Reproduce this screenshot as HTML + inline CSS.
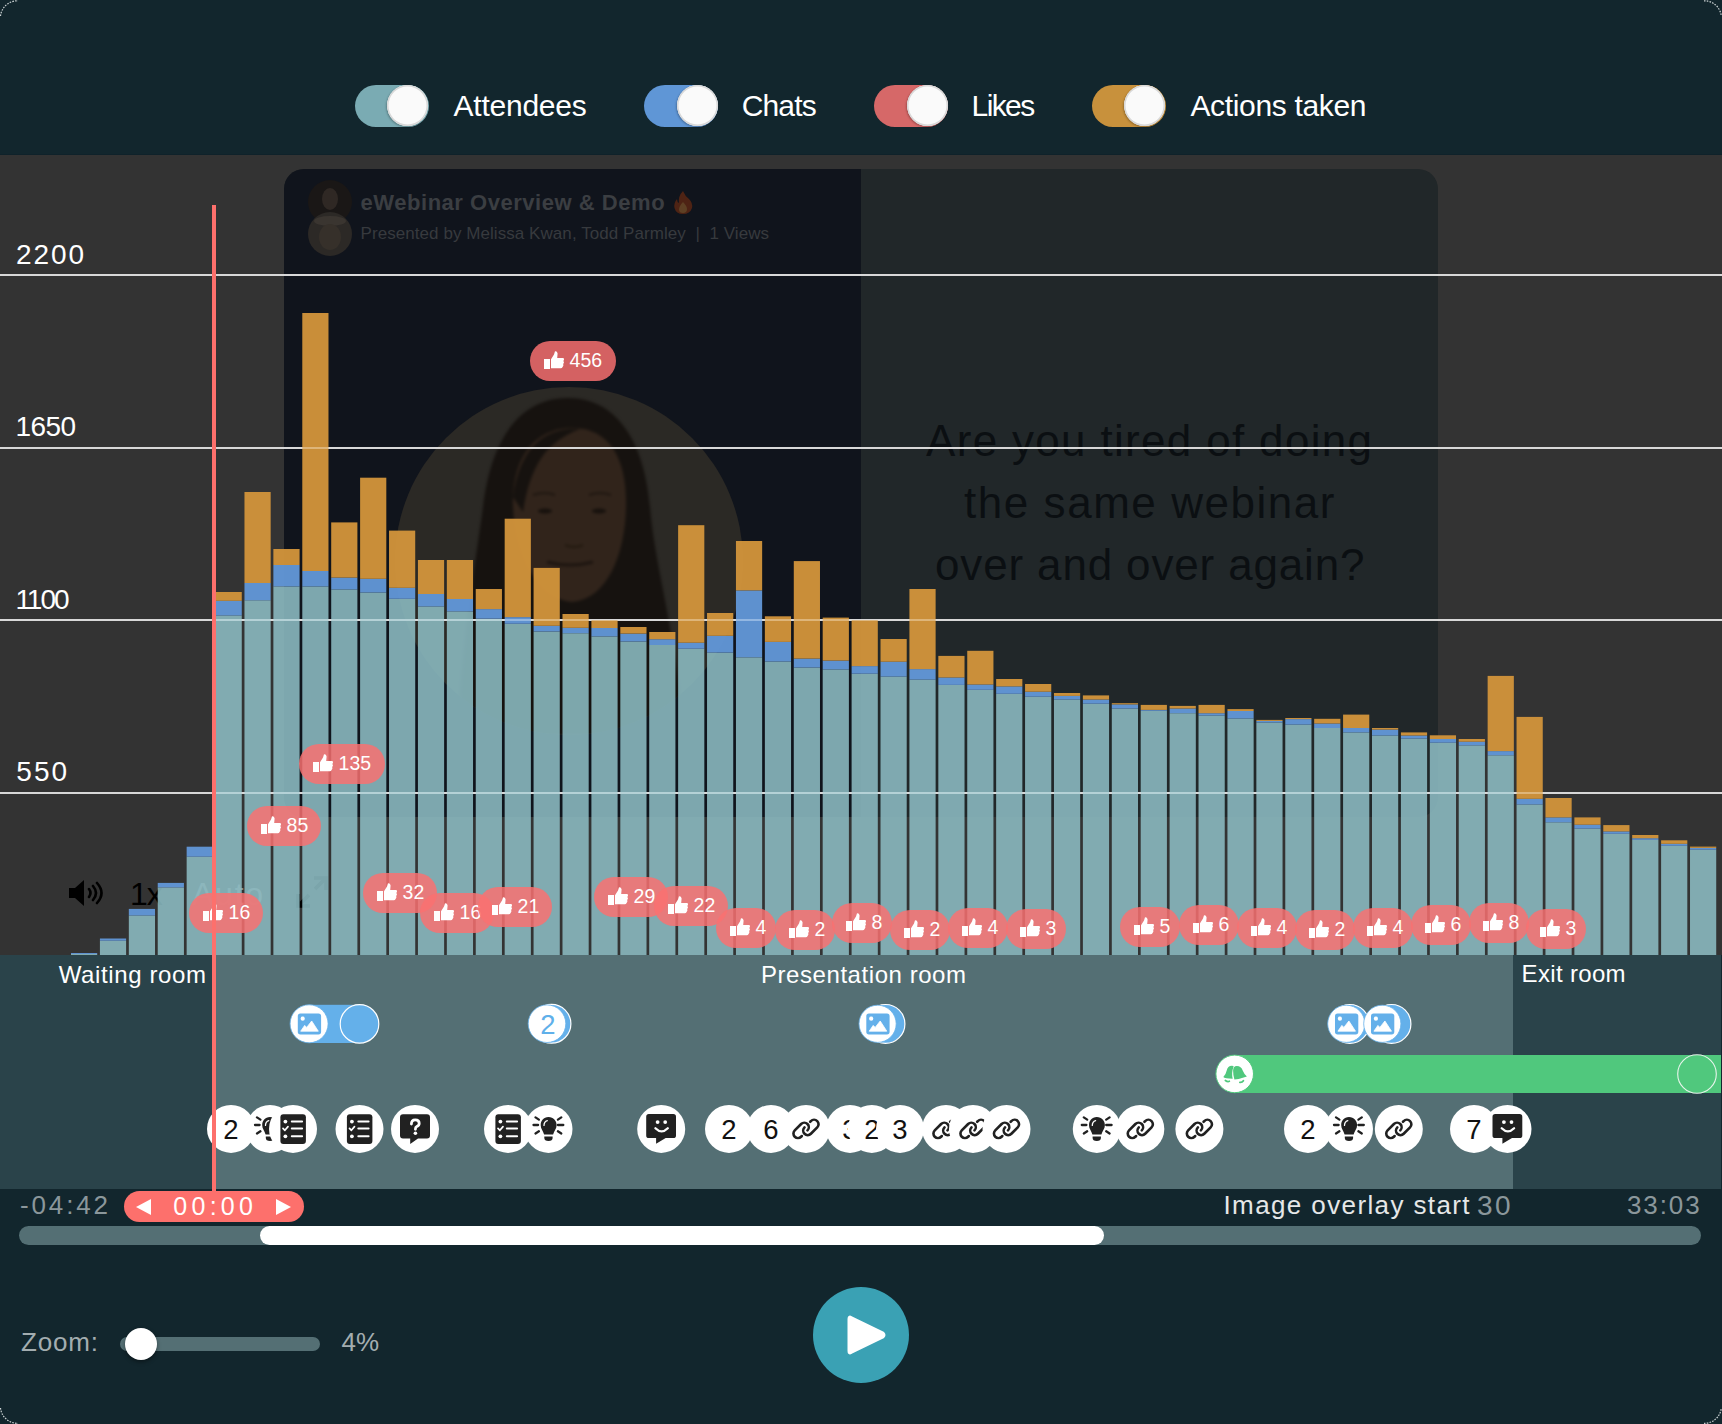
<!DOCTYPE html>
<html><head><meta charset="utf-8"><style>
html,body{margin:0;padding:0;}
body{width:1722px;height:1424px;position:relative;overflow:hidden;background:#12262d;font-family:"Liberation Sans",sans-serif;}
.r{position:absolute;}
.t{position:absolute;white-space:nowrap;line-height:1;}
.bub{border-radius:20px;background:rgba(250,112,112,0.84);}
</style></head><body>
<div class="r" style="left:0;top:0;width:1722px;height:155px;background:#12262d"></div>
<div class="r" style="left:0;top:155px;width:1722px;height:800px;background:#333333"></div>
<div class="r" style="left:0;top:154px;width:1722px;height:1px;background:#0f222a"></div>
<div class="r" style="left:0;top:955px;width:213px;height:234px;background:#2a434a"></div>
<div class="r" style="left:213px;top:955px;width:1300px;height:234px;background:#546f74"></div>
<div class="r" style="left:1513px;top:955px;width:208px;height:234px;background:#2a434a"></div>
<div class="r" style="left:0;top:1189px;width:1722px;height:235px;background:#12262d"></div>
<div class="r" style="left:354.6px;top:85px;width:74px;height:42px;border-radius:21px;background:#7aabb3"></div>
<div class="r" style="left:387.1px;top:85px;width:41px;height:41px;border-radius:50%;background:#fafafa;box-shadow:inset 0 0 0 1.5px #d8d8d8, -1px 1px 2px rgba(0,0,0,.25)"></div>
<div class="t" style="left:453.50px;top:90.61px;font-size:30px;letter-spacing:-0.231px;color:#ffffff;">Attendees</div>
<div class="r" style="left:644.0px;top:85px;width:74px;height:42px;border-radius:21px;background:#5f96d6"></div>
<div class="r" style="left:676.5px;top:85px;width:41px;height:41px;border-radius:50%;background:#fafafa;box-shadow:inset 0 0 0 1.5px #d8d8d8, -1px 1px 2px rgba(0,0,0,.25)"></div>
<div class="t" style="left:741.70px;top:90.61px;font-size:30px;letter-spacing:-0.850px;color:#ffffff;">Chats</div>
<div class="r" style="left:874.0px;top:85px;width:74px;height:42px;border-radius:21px;background:#d66868"></div>
<div class="r" style="left:906.5px;top:85px;width:41px;height:41px;border-radius:50%;background:#fafafa;box-shadow:inset 0 0 0 1.5px #d8d8d8, -1px 1px 2px rgba(0,0,0,.25)"></div>
<div class="t" style="left:971.60px;top:90.61px;font-size:30px;letter-spacing:-1.612px;color:#ffffff;">Likes</div>
<div class="r" style="left:1091.8px;top:85px;width:74px;height:42px;border-radius:21px;background:#c8913c"></div>
<div class="r" style="left:1124.3px;top:85px;width:41px;height:41px;border-radius:50%;background:#fafafa;box-shadow:inset 0 0 0 1.5px #d8d8d8, -1px 1px 2px rgba(0,0,0,.25)"></div>
<div class="t" style="left:1190.40px;top:90.61px;font-size:30px;letter-spacing:-0.329px;color:#ffffff;">Actions taken</div>
<div class="r" style="left:284px;top:169px;width:1154px;height:648px;border-radius:20px;overflow:hidden;background:#212729">
<div class="r" style="left:0;top:0;width:577px;height:648px;background:#10141c"></div>
<div class="r" style="left:111px;top:218px;width:348px;height:348px;border-radius:50%;background:#2b2925;overflow:hidden"><svg width="348" height="348" style="position:absolute;left:0;top:0;filter:blur(1.5px)"><path d="M173 11C225 11 250 60 255 120C260 180 278 230 290 348L62 348C70 230 80 180 88 120C95 60 120 11 173 11Z" fill="#16120f"/><path d="M177 41C215 41 232 72 231 120C230 168 212 212 177 215C142 212 120 168 118 120C116 72 139 41 177 41Z" fill="#31241b"/><path d="M118 110C125 60 150 40 185 42C150 55 135 80 128 125Z" fill="#16120f"/><ellipse cx="150" cy="124" rx="7" ry="2.6" fill="#17110d"/><ellipse cx="204" cy="124" rx="7" ry="2.6" fill="#17110d"/><path d="M138 108Q150 104 160 108M194 108Q205 104 216 108" stroke="#1f1711" stroke-width="2" fill="none"/><path d="M170 158Q179 162 188 158" stroke="#22190f" stroke-width="2" fill="none"/><path d="M152 175Q175 181 198 175" stroke="#1d1510" stroke-width="3" fill="none"/></svg></div>
</div>
<div class="r" style="left:308px;top:180px;width:44px;height:44px;border-radius:50%;background:#1a1716;overflow:hidden"><div class="r" style="left:14px;top:8px;width:16px;height:22px;border-radius:50%;background:#2f2824"></div></div>
<div class="r" style="left:308px;top:212px;width:44px;height:44px;border-radius:50%;background:#2c2926;overflow:hidden"><div class="r" style="left:6px;top:4px;width:32px;height:10px;border-radius:50%;background:#3a3530"></div><div class="r" style="left:11px;top:12px;width:22px;height:26px;border-radius:50%;background:#36302a"></div></div>
<div class="t" style="left:360.60px;top:192.08px;font-size:22px;letter-spacing:0.529px;color:#3b3e42;font-weight:bold;">eWebinar Overview &amp; Demo</div>
<svg class="r" style="left:672px;top:190px" width="22" height="25" viewBox="0 0 22 25"><path d="M11 1Q13 6 17 9Q21 13 20 18Q18 24 11 24Q4 24 2.5 18Q1.5 13 5 9Q5 12 7 13Q6 6 11 1Z" fill="#4e2314"/><path d="M11 12Q15 16 15 19Q15 23 11 23Q7 23 7 19.5Q7 16 11 12Z" fill="#5e4024"/></svg>
<div class="t" style="left:360.60px;top:224.71px;font-size:17px;letter-spacing:0.061px;color:#373a3e;">Presented by Melissa Kwan, Todd Parmley &nbsp;|&nbsp; 1 Views</div>
<div class="t" style="left:926.00px;top:419.45px;font-size:44px;letter-spacing:1.323px;color:#0b0f12;">Are you tired of doing</div>
<div class="t" style="left:964.00px;top:481.45px;font-size:44px;letter-spacing:1.548px;color:#0b0f12;">the same webinar</div>
<div class="t" style="left:935.00px;top:543.05px;font-size:44px;letter-spacing:0.848px;color:#0b0f12;">over and over again?</div>
<svg class="r" style="left:68px;top:879px" width="38" height="28" viewBox="0 0 38 28"><path d="M1 9h6l9-8v26l-9-8H1z" fill="#000"/><path d="M21 10q3 4 0 8M25 7q6 7 0 14M29 4q9 10 0 20" stroke="#000" stroke-width="2.6" fill="none" stroke-linecap="round"/></svg>
<div class="t" style="left:130px;top:877.91px;font-size:32px;letter-spacing:-1px;color:#000">1x</div>
<div class="t" style="left:192.00px;top:877.91px;font-size:32px;letter-spacing:1.747px;color:rgba(255,255,255,0.45);">Auto</div>
<svg class="r" style="left:292px;top:872px" width="40" height="40" viewBox="0 0 40 40"><path d="M22 6H34V18M34 6L23 17M18 34H6V22M6 34L17 23" stroke="#000" stroke-width="3.5" fill="none"/></svg>
<div class="r" style="left:0;top:274px;width:1722px;height:2px;background:#c8c8c8"></div>
<div class="r" style="left:0;top:446.5px;width:1722px;height:2px;background:#c8c8c8"></div>
<div class="r" style="left:0;top:619px;width:1722px;height:2px;background:#c8c8c8"></div>
<div class="r" style="left:0;top:791.5px;width:1722px;height:2px;background:#c8c8c8"></div>
<svg class="r" style="left:0;top:0" width="1722" height="1424">
<rect x="71.00" y="954" width="26.2" height="1.00" fill="#8cbcc3" fill-opacity="0.88"/>
<rect x="71.00" y="953" width="26.2" height="1.00" fill="#6196d6" fill-opacity="0.97"/>
<rect x="99.91" y="940.7" width="26.2" height="14.30" fill="#8cbcc3" fill-opacity="0.88"/>
<rect x="99.91" y="938.5" width="26.2" height="2.20" fill="#6196d6" fill-opacity="0.97"/>
<rect x="128.82" y="915.5" width="26.2" height="39.50" fill="#8cbcc3" fill-opacity="0.88"/>
<rect x="128.82" y="908.9" width="26.2" height="6.60" fill="#6196d6" fill-opacity="0.97"/>
<rect x="157.73" y="887.4" width="26.2" height="67.60" fill="#8cbcc3" fill-opacity="0.88"/>
<rect x="157.73" y="882.9" width="26.2" height="4.50" fill="#6196d6" fill-opacity="0.97"/>
<rect x="186.64" y="856.7" width="26.2" height="98.30" fill="#8cbcc3" fill-opacity="0.88"/>
<rect x="186.64" y="846.7" width="26.2" height="10.00" fill="#6196d6" fill-opacity="0.97"/>
<rect x="215.56" y="615.5" width="26.2" height="339.50" fill="#8cbcc3" fill-opacity="0.88"/>
<rect x="215.56" y="600.8" width="26.2" height="14.70" fill="#6196d6" fill-opacity="0.97"/>
<rect x="215.56" y="592" width="26.2" height="8.80" fill="#cf933b" fill-opacity="0.97"/>
<rect x="244.47" y="600.3" width="26.2" height="354.70" fill="#8cbcc3" fill-opacity="0.88"/>
<rect x="244.47" y="583" width="26.2" height="17.30" fill="#6196d6" fill-opacity="0.97"/>
<rect x="244.47" y="492" width="26.2" height="91.00" fill="#cf933b" fill-opacity="0.97"/>
<rect x="273.38" y="586.4" width="26.2" height="368.60" fill="#8cbcc3" fill-opacity="0.88"/>
<rect x="273.38" y="565" width="26.2" height="21.40" fill="#6196d6" fill-opacity="0.97"/>
<rect x="273.38" y="549" width="26.2" height="16.00" fill="#cf933b" fill-opacity="0.97"/>
<rect x="302.29" y="586.4" width="26.2" height="368.60" fill="#8cbcc3" fill-opacity="0.88"/>
<rect x="302.29" y="571" width="26.2" height="15.40" fill="#6196d6" fill-opacity="0.97"/>
<rect x="302.29" y="313" width="26.2" height="258.00" fill="#cf933b" fill-opacity="0.97"/>
<rect x="331.20" y="589.4" width="26.2" height="365.60" fill="#8cbcc3" fill-opacity="0.88"/>
<rect x="331.20" y="577.6" width="26.2" height="11.80" fill="#6196d6" fill-opacity="0.97"/>
<rect x="331.20" y="522.4" width="26.2" height="55.20" fill="#cf933b" fill-opacity="0.97"/>
<rect x="360.11" y="592.5" width="26.2" height="362.50" fill="#8cbcc3" fill-opacity="0.88"/>
<rect x="360.11" y="578.8" width="26.2" height="13.70" fill="#6196d6" fill-opacity="0.97"/>
<rect x="360.11" y="477.7" width="26.2" height="101.10" fill="#cf933b" fill-opacity="0.97"/>
<rect x="389.02" y="598.8" width="26.2" height="356.20" fill="#8cbcc3" fill-opacity="0.88"/>
<rect x="389.02" y="587.8" width="26.2" height="11.00" fill="#6196d6" fill-opacity="0.97"/>
<rect x="389.02" y="530.6" width="26.2" height="57.20" fill="#cf933b" fill-opacity="0.97"/>
<rect x="417.93" y="606.5" width="26.2" height="348.50" fill="#8cbcc3" fill-opacity="0.88"/>
<rect x="417.93" y="594" width="26.2" height="12.50" fill="#6196d6" fill-opacity="0.97"/>
<rect x="417.93" y="560" width="26.2" height="34.00" fill="#cf933b" fill-opacity="0.97"/>
<rect x="446.84" y="611.4" width="26.2" height="343.60" fill="#8cbcc3" fill-opacity="0.88"/>
<rect x="446.84" y="599" width="26.2" height="12.40" fill="#6196d6" fill-opacity="0.97"/>
<rect x="446.84" y="560" width="26.2" height="39.00" fill="#cf933b" fill-opacity="0.97"/>
<rect x="475.75" y="618.7" width="26.2" height="336.30" fill="#8cbcc3" fill-opacity="0.88"/>
<rect x="475.75" y="609.1" width="26.2" height="9.60" fill="#6196d6" fill-opacity="0.97"/>
<rect x="475.75" y="589" width="26.2" height="20.10" fill="#cf933b" fill-opacity="0.97"/>
<rect x="504.67" y="623.8" width="26.2" height="331.20" fill="#8cbcc3" fill-opacity="0.88"/>
<rect x="504.67" y="617.1" width="26.2" height="6.70" fill="#6196d6" fill-opacity="0.97"/>
<rect x="504.67" y="518.7" width="26.2" height="98.40" fill="#cf933b" fill-opacity="0.97"/>
<rect x="533.58" y="631.5" width="26.2" height="323.50" fill="#8cbcc3" fill-opacity="0.88"/>
<rect x="533.58" y="625.8" width="26.2" height="5.70" fill="#6196d6" fill-opacity="0.97"/>
<rect x="533.58" y="567.9" width="26.2" height="57.90" fill="#cf933b" fill-opacity="0.97"/>
<rect x="562.49" y="633.2" width="26.2" height="321.80" fill="#8cbcc3" fill-opacity="0.88"/>
<rect x="562.49" y="627.8" width="26.2" height="5.40" fill="#6196d6" fill-opacity="0.97"/>
<rect x="562.49" y="614" width="26.2" height="13.80" fill="#cf933b" fill-opacity="0.97"/>
<rect x="591.40" y="636.4" width="26.2" height="318.60" fill="#8cbcc3" fill-opacity="0.88"/>
<rect x="591.40" y="628" width="26.2" height="8.40" fill="#6196d6" fill-opacity="0.97"/>
<rect x="591.40" y="620.2" width="26.2" height="7.80" fill="#cf933b" fill-opacity="0.97"/>
<rect x="620.31" y="641.5" width="26.2" height="313.50" fill="#8cbcc3" fill-opacity="0.88"/>
<rect x="620.31" y="633.6" width="26.2" height="7.90" fill="#6196d6" fill-opacity="0.97"/>
<rect x="620.31" y="627" width="26.2" height="6.60" fill="#cf933b" fill-opacity="0.97"/>
<rect x="649.22" y="645" width="26.2" height="310.00" fill="#8cbcc3" fill-opacity="0.88"/>
<rect x="649.22" y="639.2" width="26.2" height="5.80" fill="#6196d6" fill-opacity="0.97"/>
<rect x="649.22" y="632" width="26.2" height="7.20" fill="#cf933b" fill-opacity="0.97"/>
<rect x="678.13" y="648.7" width="26.2" height="306.30" fill="#8cbcc3" fill-opacity="0.88"/>
<rect x="678.13" y="642.7" width="26.2" height="6.00" fill="#6196d6" fill-opacity="0.97"/>
<rect x="678.13" y="525.2" width="26.2" height="117.50" fill="#cf933b" fill-opacity="0.97"/>
<rect x="707.04" y="652.6" width="26.2" height="302.40" fill="#8cbcc3" fill-opacity="0.88"/>
<rect x="707.04" y="635.8" width="26.2" height="16.80" fill="#6196d6" fill-opacity="0.97"/>
<rect x="707.04" y="613" width="26.2" height="22.80" fill="#cf933b" fill-opacity="0.97"/>
<rect x="735.95" y="657.3" width="26.2" height="297.70" fill="#8cbcc3" fill-opacity="0.88"/>
<rect x="735.95" y="590.4" width="26.2" height="66.90" fill="#6196d6" fill-opacity="0.97"/>
<rect x="735.95" y="541" width="26.2" height="49.40" fill="#cf933b" fill-opacity="0.97"/>
<rect x="764.86" y="661.5" width="26.2" height="293.50" fill="#8cbcc3" fill-opacity="0.88"/>
<rect x="764.86" y="641.9" width="26.2" height="19.60" fill="#6196d6" fill-opacity="0.97"/>
<rect x="764.86" y="616.3" width="26.2" height="25.60" fill="#cf933b" fill-opacity="0.97"/>
<rect x="793.78" y="667.5" width="26.2" height="287.50" fill="#8cbcc3" fill-opacity="0.88"/>
<rect x="793.78" y="658.6" width="26.2" height="8.90" fill="#6196d6" fill-opacity="0.97"/>
<rect x="793.78" y="561.1" width="26.2" height="97.50" fill="#cf933b" fill-opacity="0.97"/>
<rect x="822.69" y="669.4" width="26.2" height="285.60" fill="#8cbcc3" fill-opacity="0.88"/>
<rect x="822.69" y="660.6" width="26.2" height="8.80" fill="#6196d6" fill-opacity="0.97"/>
<rect x="822.69" y="617.6" width="26.2" height="43.00" fill="#cf933b" fill-opacity="0.97"/>
<rect x="851.60" y="673.7" width="26.2" height="281.30" fill="#8cbcc3" fill-opacity="0.88"/>
<rect x="851.60" y="666.1" width="26.2" height="7.60" fill="#6196d6" fill-opacity="0.97"/>
<rect x="851.60" y="620.1" width="26.2" height="46.00" fill="#cf933b" fill-opacity="0.97"/>
<rect x="880.51" y="676.6" width="26.2" height="278.40" fill="#8cbcc3" fill-opacity="0.88"/>
<rect x="880.51" y="661.7" width="26.2" height="14.90" fill="#6196d6" fill-opacity="0.97"/>
<rect x="880.51" y="639" width="26.2" height="22.70" fill="#cf933b" fill-opacity="0.97"/>
<rect x="909.42" y="679.6" width="26.2" height="275.40" fill="#8cbcc3" fill-opacity="0.88"/>
<rect x="909.42" y="669.1" width="26.2" height="10.50" fill="#6196d6" fill-opacity="0.97"/>
<rect x="909.42" y="589" width="26.2" height="80.10" fill="#cf933b" fill-opacity="0.97"/>
<rect x="938.33" y="684.9" width="26.2" height="270.10" fill="#8cbcc3" fill-opacity="0.88"/>
<rect x="938.33" y="677.5" width="26.2" height="7.40" fill="#6196d6" fill-opacity="0.97"/>
<rect x="938.33" y="655.9" width="26.2" height="21.60" fill="#cf933b" fill-opacity="0.97"/>
<rect x="967.24" y="689.8" width="26.2" height="265.20" fill="#8cbcc3" fill-opacity="0.88"/>
<rect x="967.24" y="684.5" width="26.2" height="5.30" fill="#6196d6" fill-opacity="0.97"/>
<rect x="967.24" y="650.8" width="26.2" height="33.70" fill="#cf933b" fill-opacity="0.97"/>
<rect x="996.15" y="693.8" width="26.2" height="261.20" fill="#8cbcc3" fill-opacity="0.88"/>
<rect x="996.15" y="686.4" width="26.2" height="7.40" fill="#6196d6" fill-opacity="0.97"/>
<rect x="996.15" y="679" width="26.2" height="7.40" fill="#cf933b" fill-opacity="0.97"/>
<rect x="1025.06" y="696.7" width="26.2" height="258.30" fill="#8cbcc3" fill-opacity="0.88"/>
<rect x="1025.06" y="691.7" width="26.2" height="5.00" fill="#6196d6" fill-opacity="0.97"/>
<rect x="1025.06" y="684" width="26.2" height="7.70" fill="#cf933b" fill-opacity="0.97"/>
<rect x="1053.97" y="699.5" width="26.2" height="255.50" fill="#8cbcc3" fill-opacity="0.88"/>
<rect x="1053.97" y="695.9" width="26.2" height="3.60" fill="#6196d6" fill-opacity="0.97"/>
<rect x="1053.97" y="693" width="26.2" height="2.90" fill="#cf933b" fill-opacity="0.97"/>
<rect x="1082.88" y="703.7" width="26.2" height="251.30" fill="#8cbcc3" fill-opacity="0.88"/>
<rect x="1082.88" y="699.5" width="26.2" height="4.20" fill="#6196d6" fill-opacity="0.97"/>
<rect x="1082.88" y="695.4" width="26.2" height="4.10" fill="#cf933b" fill-opacity="0.97"/>
<rect x="1111.80" y="708.5" width="26.2" height="246.50" fill="#8cbcc3" fill-opacity="0.88"/>
<rect x="1111.80" y="704.4" width="26.2" height="4.10" fill="#6196d6" fill-opacity="0.97"/>
<rect x="1111.80" y="703.2" width="26.2" height="1.20" fill="#cf933b" fill-opacity="0.97"/>
<rect x="1140.71" y="710.8" width="26.2" height="244.20" fill="#8cbcc3" fill-opacity="0.88"/>
<rect x="1140.71" y="709.9" width="26.2" height="0.90" fill="#6196d6" fill-opacity="0.97"/>
<rect x="1140.71" y="704.9" width="26.2" height="5.00" fill="#cf933b" fill-opacity="0.97"/>
<rect x="1169.62" y="713.2" width="26.2" height="241.80" fill="#8cbcc3" fill-opacity="0.88"/>
<rect x="1169.62" y="708.5" width="26.2" height="4.70" fill="#6196d6" fill-opacity="0.97"/>
<rect x="1169.62" y="705.9" width="26.2" height="2.60" fill="#cf933b" fill-opacity="0.97"/>
<rect x="1198.53" y="715.5" width="26.2" height="239.50" fill="#8cbcc3" fill-opacity="0.88"/>
<rect x="1198.53" y="713.2" width="26.2" height="2.30" fill="#6196d6" fill-opacity="0.97"/>
<rect x="1198.53" y="704.9" width="26.2" height="8.30" fill="#cf933b" fill-opacity="0.97"/>
<rect x="1227.44" y="718.5" width="26.2" height="236.50" fill="#8cbcc3" fill-opacity="0.88"/>
<rect x="1227.44" y="711" width="26.2" height="7.50" fill="#6196d6" fill-opacity="0.97"/>
<rect x="1227.44" y="709.1" width="26.2" height="1.90" fill="#cf933b" fill-opacity="0.97"/>
<rect x="1256.35" y="722.5" width="26.2" height="232.50" fill="#8cbcc3" fill-opacity="0.88"/>
<rect x="1256.35" y="720.9" width="26.2" height="1.60" fill="#6196d6" fill-opacity="0.97"/>
<rect x="1256.35" y="719.9" width="26.2" height="1.00" fill="#cf933b" fill-opacity="0.97"/>
<rect x="1285.26" y="724.6" width="26.2" height="230.40" fill="#8cbcc3" fill-opacity="0.88"/>
<rect x="1285.26" y="719.1" width="26.2" height="5.50" fill="#6196d6" fill-opacity="0.97"/>
<rect x="1285.26" y="718" width="26.2" height="1.10" fill="#cf933b" fill-opacity="0.97"/>
<rect x="1314.17" y="728" width="26.2" height="227.00" fill="#8cbcc3" fill-opacity="0.88"/>
<rect x="1314.17" y="723.5" width="26.2" height="4.50" fill="#6196d6" fill-opacity="0.97"/>
<rect x="1314.17" y="718.8" width="26.2" height="4.70" fill="#cf933b" fill-opacity="0.97"/>
<rect x="1343.08" y="732.4" width="26.2" height="222.60" fill="#8cbcc3" fill-opacity="0.88"/>
<rect x="1343.08" y="728" width="26.2" height="4.40" fill="#6196d6" fill-opacity="0.97"/>
<rect x="1343.08" y="714.6" width="26.2" height="13.40" fill="#cf933b" fill-opacity="0.97"/>
<rect x="1372.00" y="735.5" width="26.2" height="219.50" fill="#8cbcc3" fill-opacity="0.88"/>
<rect x="1372.00" y="729.6" width="26.2" height="5.90" fill="#6196d6" fill-opacity="0.97"/>
<rect x="1372.00" y="728" width="26.2" height="1.60" fill="#cf933b" fill-opacity="0.97"/>
<rect x="1400.91" y="738.5" width="26.2" height="216.50" fill="#8cbcc3" fill-opacity="0.88"/>
<rect x="1400.91" y="735.5" width="26.2" height="3.00" fill="#6196d6" fill-opacity="0.97"/>
<rect x="1400.91" y="732.4" width="26.2" height="3.10" fill="#cf933b" fill-opacity="0.97"/>
<rect x="1429.82" y="742.7" width="26.2" height="212.30" fill="#8cbcc3" fill-opacity="0.88"/>
<rect x="1429.82" y="739" width="26.2" height="3.70" fill="#6196d6" fill-opacity="0.97"/>
<rect x="1429.82" y="735.3" width="26.2" height="3.70" fill="#cf933b" fill-opacity="0.97"/>
<rect x="1458.73" y="745.4" width="26.2" height="209.60" fill="#8cbcc3" fill-opacity="0.88"/>
<rect x="1458.73" y="741.7" width="26.2" height="3.70" fill="#6196d6" fill-opacity="0.97"/>
<rect x="1458.73" y="739" width="26.2" height="2.70" fill="#cf933b" fill-opacity="0.97"/>
<rect x="1487.64" y="755.3" width="26.2" height="199.70" fill="#8cbcc3" fill-opacity="0.88"/>
<rect x="1487.64" y="751.1" width="26.2" height="4.20" fill="#6196d6" fill-opacity="0.97"/>
<rect x="1487.64" y="675.9" width="26.2" height="75.20" fill="#cf933b" fill-opacity="0.97"/>
<rect x="1516.55" y="804.5" width="26.2" height="150.50" fill="#8cbcc3" fill-opacity="0.88"/>
<rect x="1516.55" y="798.8" width="26.2" height="5.70" fill="#6196d6" fill-opacity="0.97"/>
<rect x="1516.55" y="716.9" width="26.2" height="81.90" fill="#cf933b" fill-opacity="0.97"/>
<rect x="1545.46" y="822.3" width="26.2" height="132.70" fill="#8cbcc3" fill-opacity="0.88"/>
<rect x="1545.46" y="817.4" width="26.2" height="4.90" fill="#6196d6" fill-opacity="0.97"/>
<rect x="1545.46" y="798" width="26.2" height="19.40" fill="#cf933b" fill-opacity="0.97"/>
<rect x="1574.37" y="828.6" width="26.2" height="126.40" fill="#8cbcc3" fill-opacity="0.88"/>
<rect x="1574.37" y="824.7" width="26.2" height="3.90" fill="#6196d6" fill-opacity="0.97"/>
<rect x="1574.37" y="817.4" width="26.2" height="7.30" fill="#cf933b" fill-opacity="0.97"/>
<rect x="1603.28" y="833.8" width="26.2" height="121.20" fill="#8cbcc3" fill-opacity="0.88"/>
<rect x="1603.28" y="831.4" width="26.2" height="2.40" fill="#6196d6" fill-opacity="0.97"/>
<rect x="1603.28" y="825.1" width="26.2" height="6.30" fill="#cf933b" fill-opacity="0.97"/>
<rect x="1632.19" y="839.9" width="26.2" height="115.10" fill="#8cbcc3" fill-opacity="0.88"/>
<rect x="1632.19" y="838.2" width="26.2" height="1.70" fill="#6196d6" fill-opacity="0.97"/>
<rect x="1632.19" y="835" width="26.2" height="3.20" fill="#cf933b" fill-opacity="0.97"/>
<rect x="1661.11" y="845.8" width="26.2" height="109.20" fill="#8cbcc3" fill-opacity="0.88"/>
<rect x="1661.11" y="843.8" width="26.2" height="2.00" fill="#6196d6" fill-opacity="0.97"/>
<rect x="1661.11" y="840.3" width="26.2" height="3.50" fill="#cf933b" fill-opacity="0.97"/>
<rect x="1690.02" y="849.7" width="26.2" height="105.30" fill="#8cbcc3" fill-opacity="0.88"/>
<rect x="1690.02" y="847.9" width="26.2" height="1.80" fill="#6196d6" fill-opacity="0.97"/>
<rect x="1690.02" y="846.6" width="26.2" height="1.30" fill="#cf933b" fill-opacity="0.97"/>
</svg>
<div class="r" style="left:0;top:274px;width:1722px;height:2px;background:rgba(255,255,255,0.3)"></div>
<div class="r" style="left:0;top:446.5px;width:1722px;height:2px;background:rgba(255,255,255,0.3)"></div>
<div class="r" style="left:0;top:619px;width:1722px;height:2px;background:rgba(255,255,255,0.3)"></div>
<div class="r" style="left:0;top:791.5px;width:1722px;height:2px;background:rgba(255,255,255,0.3)"></div>
<div class="t" style="left:16.00px;top:241.10px;font-size:28px;letter-spacing:1.900px;color:#ffffff;">2200</div>
<div class="t" style="left:15.40px;top:413.30px;font-size:28px;letter-spacing:-0.567px;color:#ffffff;">1650</div>
<div class="t" style="left:15.40px;top:586.40px;font-size:28px;letter-spacing:-2.033px;color:#ffffff;">1100</div>
<div class="t" style="left:16.20px;top:757.80px;font-size:28px;letter-spacing:2.120px;color:#ffffff;">550</div>
<div class="r bub" style="left:530px;top:341px;width:86px;height:40px"><svg width="20" height="18" viewBox="0 0 20 18" style="position:absolute;left:14px;top:10px"><rect x="0" y="8" width="6" height="10" fill="#fff"/><path d="M7 8.2L10 3.5L11 0.2Q13.3 0 13.6 2.4L13.2 7H19Q20.2 7.2 20 8.6L19.4 10L20 11.4L19.2 13L19.4 14.6L18.6 16Q18 17.2 16.8 17.2H7Z" fill="#fff"/></svg><div class="t" style="left:39.6px;top:10.09px;font-size:19.5px;color:#fff">456</div></div>
<div class="r bub" style="left:299px;top:744px;width:86px;height:40px"><svg width="20" height="18" viewBox="0 0 20 18" style="position:absolute;left:14px;top:10px"><rect x="0" y="8" width="6" height="10" fill="#fff"/><path d="M7 8.2L10 3.5L11 0.2Q13.3 0 13.6 2.4L13.2 7H19Q20.2 7.2 20 8.6L19.4 10L20 11.4L19.2 13L19.4 14.6L18.6 16Q18 17.2 16.8 17.2H7Z" fill="#fff"/></svg><div class="t" style="left:39.6px;top:10.09px;font-size:19.5px;color:#fff">135</div></div>
<div class="r bub" style="left:247px;top:806px;width:74px;height:40px"><svg width="20" height="18" viewBox="0 0 20 18" style="position:absolute;left:14px;top:10px"><rect x="0" y="8" width="6" height="10" fill="#fff"/><path d="M7 8.2L10 3.5L11 0.2Q13.3 0 13.6 2.4L13.2 7H19Q20.2 7.2 20 8.6L19.4 10L20 11.4L19.2 13L19.4 14.6L18.6 16Q18 17.2 16.8 17.2H7Z" fill="#fff"/></svg><div class="t" style="left:39.6px;top:10.09px;font-size:19.5px;color:#fff">85</div></div>
<div class="r bub" style="left:189px;top:893px;width:74px;height:40px"><svg width="20" height="18" viewBox="0 0 20 18" style="position:absolute;left:14px;top:10px"><rect x="0" y="8" width="6" height="10" fill="#fff"/><path d="M7 8.2L10 3.5L11 0.2Q13.3 0 13.6 2.4L13.2 7H19Q20.2 7.2 20 8.6L19.4 10L20 11.4L19.2 13L19.4 14.6L18.6 16Q18 17.2 16.8 17.2H7Z" fill="#fff"/></svg><div class="t" style="left:39.6px;top:10.09px;font-size:19.5px;color:#fff">16</div></div>
<div class="r bub" style="left:363px;top:873px;width:74px;height:40px"><svg width="20" height="18" viewBox="0 0 20 18" style="position:absolute;left:14px;top:10px"><rect x="0" y="8" width="6" height="10" fill="#fff"/><path d="M7 8.2L10 3.5L11 0.2Q13.3 0 13.6 2.4L13.2 7H19Q20.2 7.2 20 8.6L19.4 10L20 11.4L19.2 13L19.4 14.6L18.6 16Q18 17.2 16.8 17.2H7Z" fill="#fff"/></svg><div class="t" style="left:39.6px;top:10.09px;font-size:19.5px;color:#fff">32</div></div>
<div class="r bub" style="left:420px;top:893px;width:74px;height:40px"><svg width="20" height="18" viewBox="0 0 20 18" style="position:absolute;left:14px;top:10px"><rect x="0" y="8" width="6" height="10" fill="#fff"/><path d="M7 8.2L10 3.5L11 0.2Q13.3 0 13.6 2.4L13.2 7H19Q20.2 7.2 20 8.6L19.4 10L20 11.4L19.2 13L19.4 14.6L18.6 16Q18 17.2 16.8 17.2H7Z" fill="#fff"/></svg><div class="t" style="left:39.6px;top:10.09px;font-size:19.5px;color:#fff">16</div></div>
<div class="r bub" style="left:478px;top:887px;width:74px;height:40px"><svg width="20" height="18" viewBox="0 0 20 18" style="position:absolute;left:14px;top:10px"><rect x="0" y="8" width="6" height="10" fill="#fff"/><path d="M7 8.2L10 3.5L11 0.2Q13.3 0 13.6 2.4L13.2 7H19Q20.2 7.2 20 8.6L19.4 10L20 11.4L19.2 13L19.4 14.6L18.6 16Q18 17.2 16.8 17.2H7Z" fill="#fff"/></svg><div class="t" style="left:39.6px;top:10.09px;font-size:19.5px;color:#fff">21</div></div>
<div class="r bub" style="left:594px;top:877px;width:74px;height:40px"><svg width="20" height="18" viewBox="0 0 20 18" style="position:absolute;left:14px;top:10px"><rect x="0" y="8" width="6" height="10" fill="#fff"/><path d="M7 8.2L10 3.5L11 0.2Q13.3 0 13.6 2.4L13.2 7H19Q20.2 7.2 20 8.6L19.4 10L20 11.4L19.2 13L19.4 14.6L18.6 16Q18 17.2 16.8 17.2H7Z" fill="#fff"/></svg><div class="t" style="left:39.6px;top:10.09px;font-size:19.5px;color:#fff">29</div></div>
<div class="r bub" style="left:654px;top:886px;width:74px;height:40px"><svg width="20" height="18" viewBox="0 0 20 18" style="position:absolute;left:14px;top:10px"><rect x="0" y="8" width="6" height="10" fill="#fff"/><path d="M7 8.2L10 3.5L11 0.2Q13.3 0 13.6 2.4L13.2 7H19Q20.2 7.2 20 8.6L19.4 10L20 11.4L19.2 13L19.4 14.6L18.6 16Q18 17.2 16.8 17.2H7Z" fill="#fff"/></svg><div class="t" style="left:39.6px;top:10.09px;font-size:19.5px;color:#fff">22</div></div>
<div class="r bub" style="left:716px;top:908px;width:60px;height:40px"><svg width="20" height="18" viewBox="0 0 20 18" style="position:absolute;left:14px;top:10px"><rect x="0" y="8" width="6" height="10" fill="#fff"/><path d="M7 8.2L10 3.5L11 0.2Q13.3 0 13.6 2.4L13.2 7H19Q20.2 7.2 20 8.6L19.4 10L20 11.4L19.2 13L19.4 14.6L18.6 16Q18 17.2 16.8 17.2H7Z" fill="#fff"/></svg><div class="t" style="left:39.6px;top:10.09px;font-size:19.5px;color:#fff">4</div></div>
<div class="r bub" style="left:775px;top:910px;width:60px;height:40px"><svg width="20" height="18" viewBox="0 0 20 18" style="position:absolute;left:14px;top:10px"><rect x="0" y="8" width="6" height="10" fill="#fff"/><path d="M7 8.2L10 3.5L11 0.2Q13.3 0 13.6 2.4L13.2 7H19Q20.2 7.2 20 8.6L19.4 10L20 11.4L19.2 13L19.4 14.6L18.6 16Q18 17.2 16.8 17.2H7Z" fill="#fff"/></svg><div class="t" style="left:39.6px;top:10.09px;font-size:19.5px;color:#fff">2</div></div>
<div class="r bub" style="left:832px;top:903px;width:60px;height:40px"><svg width="20" height="18" viewBox="0 0 20 18" style="position:absolute;left:14px;top:10px"><rect x="0" y="8" width="6" height="10" fill="#fff"/><path d="M7 8.2L10 3.5L11 0.2Q13.3 0 13.6 2.4L13.2 7H19Q20.2 7.2 20 8.6L19.4 10L20 11.4L19.2 13L19.4 14.6L18.6 16Q18 17.2 16.8 17.2H7Z" fill="#fff"/></svg><div class="t" style="left:39.6px;top:10.09px;font-size:19.5px;color:#fff">8</div></div>
<div class="r bub" style="left:890px;top:910px;width:60px;height:40px"><svg width="20" height="18" viewBox="0 0 20 18" style="position:absolute;left:14px;top:10px"><rect x="0" y="8" width="6" height="10" fill="#fff"/><path d="M7 8.2L10 3.5L11 0.2Q13.3 0 13.6 2.4L13.2 7H19Q20.2 7.2 20 8.6L19.4 10L20 11.4L19.2 13L19.4 14.6L18.6 16Q18 17.2 16.8 17.2H7Z" fill="#fff"/></svg><div class="t" style="left:39.6px;top:10.09px;font-size:19.5px;color:#fff">2</div></div>
<div class="r bub" style="left:948px;top:908px;width:60px;height:40px"><svg width="20" height="18" viewBox="0 0 20 18" style="position:absolute;left:14px;top:10px"><rect x="0" y="8" width="6" height="10" fill="#fff"/><path d="M7 8.2L10 3.5L11 0.2Q13.3 0 13.6 2.4L13.2 7H19Q20.2 7.2 20 8.6L19.4 10L20 11.4L19.2 13L19.4 14.6L18.6 16Q18 17.2 16.8 17.2H7Z" fill="#fff"/></svg><div class="t" style="left:39.6px;top:10.09px;font-size:19.5px;color:#fff">4</div></div>
<div class="r bub" style="left:1006px;top:909px;width:60px;height:40px"><svg width="20" height="18" viewBox="0 0 20 18" style="position:absolute;left:14px;top:10px"><rect x="0" y="8" width="6" height="10" fill="#fff"/><path d="M7 8.2L10 3.5L11 0.2Q13.3 0 13.6 2.4L13.2 7H19Q20.2 7.2 20 8.6L19.4 10L20 11.4L19.2 13L19.4 14.6L18.6 16Q18 17.2 16.8 17.2H7Z" fill="#fff"/></svg><div class="t" style="left:39.6px;top:10.09px;font-size:19.5px;color:#fff">3</div></div>
<div class="r bub" style="left:1120px;top:907px;width:60px;height:40px"><svg width="20" height="18" viewBox="0 0 20 18" style="position:absolute;left:14px;top:10px"><rect x="0" y="8" width="6" height="10" fill="#fff"/><path d="M7 8.2L10 3.5L11 0.2Q13.3 0 13.6 2.4L13.2 7H19Q20.2 7.2 20 8.6L19.4 10L20 11.4L19.2 13L19.4 14.6L18.6 16Q18 17.2 16.8 17.2H7Z" fill="#fff"/></svg><div class="t" style="left:39.6px;top:10.09px;font-size:19.5px;color:#fff">5</div></div>
<div class="r bub" style="left:1179px;top:905px;width:60px;height:40px"><svg width="20" height="18" viewBox="0 0 20 18" style="position:absolute;left:14px;top:10px"><rect x="0" y="8" width="6" height="10" fill="#fff"/><path d="M7 8.2L10 3.5L11 0.2Q13.3 0 13.6 2.4L13.2 7H19Q20.2 7.2 20 8.6L19.4 10L20 11.4L19.2 13L19.4 14.6L18.6 16Q18 17.2 16.8 17.2H7Z" fill="#fff"/></svg><div class="t" style="left:39.6px;top:10.09px;font-size:19.5px;color:#fff">6</div></div>
<div class="r bub" style="left:1237px;top:908px;width:60px;height:40px"><svg width="20" height="18" viewBox="0 0 20 18" style="position:absolute;left:14px;top:10px"><rect x="0" y="8" width="6" height="10" fill="#fff"/><path d="M7 8.2L10 3.5L11 0.2Q13.3 0 13.6 2.4L13.2 7H19Q20.2 7.2 20 8.6L19.4 10L20 11.4L19.2 13L19.4 14.6L18.6 16Q18 17.2 16.8 17.2H7Z" fill="#fff"/></svg><div class="t" style="left:39.6px;top:10.09px;font-size:19.5px;color:#fff">4</div></div>
<div class="r bub" style="left:1295px;top:910px;width:60px;height:40px"><svg width="20" height="18" viewBox="0 0 20 18" style="position:absolute;left:14px;top:10px"><rect x="0" y="8" width="6" height="10" fill="#fff"/><path d="M7 8.2L10 3.5L11 0.2Q13.3 0 13.6 2.4L13.2 7H19Q20.2 7.2 20 8.6L19.4 10L20 11.4L19.2 13L19.4 14.6L18.6 16Q18 17.2 16.8 17.2H7Z" fill="#fff"/></svg><div class="t" style="left:39.6px;top:10.09px;font-size:19.5px;color:#fff">2</div></div>
<div class="r bub" style="left:1353px;top:908px;width:60px;height:40px"><svg width="20" height="18" viewBox="0 0 20 18" style="position:absolute;left:14px;top:10px"><rect x="0" y="8" width="6" height="10" fill="#fff"/><path d="M7 8.2L10 3.5L11 0.2Q13.3 0 13.6 2.4L13.2 7H19Q20.2 7.2 20 8.6L19.4 10L20 11.4L19.2 13L19.4 14.6L18.6 16Q18 17.2 16.8 17.2H7Z" fill="#fff"/></svg><div class="t" style="left:39.6px;top:10.09px;font-size:19.5px;color:#fff">4</div></div>
<div class="r bub" style="left:1411px;top:905px;width:60px;height:40px"><svg width="20" height="18" viewBox="0 0 20 18" style="position:absolute;left:14px;top:10px"><rect x="0" y="8" width="6" height="10" fill="#fff"/><path d="M7 8.2L10 3.5L11 0.2Q13.3 0 13.6 2.4L13.2 7H19Q20.2 7.2 20 8.6L19.4 10L20 11.4L19.2 13L19.4 14.6L18.6 16Q18 17.2 16.8 17.2H7Z" fill="#fff"/></svg><div class="t" style="left:39.6px;top:10.09px;font-size:19.5px;color:#fff">6</div></div>
<div class="r bub" style="left:1469px;top:903px;width:60px;height:40px"><svg width="20" height="18" viewBox="0 0 20 18" style="position:absolute;left:14px;top:10px"><rect x="0" y="8" width="6" height="10" fill="#fff"/><path d="M7 8.2L10 3.5L11 0.2Q13.3 0 13.6 2.4L13.2 7H19Q20.2 7.2 20 8.6L19.4 10L20 11.4L19.2 13L19.4 14.6L18.6 16Q18 17.2 16.8 17.2H7Z" fill="#fff"/></svg><div class="t" style="left:39.6px;top:10.09px;font-size:19.5px;color:#fff">8</div></div>
<div class="r bub" style="left:1526px;top:909px;width:60px;height:40px"><svg width="20" height="18" viewBox="0 0 20 18" style="position:absolute;left:14px;top:10px"><rect x="0" y="8" width="6" height="10" fill="#fff"/><path d="M7 8.2L10 3.5L11 0.2Q13.3 0 13.6 2.4L13.2 7H19Q20.2 7.2 20 8.6L19.4 10L20 11.4L19.2 13L19.4 14.6L18.6 16Q18 17.2 16.8 17.2H7Z" fill="#fff"/></svg><div class="t" style="left:39.6px;top:10.09px;font-size:19.5px;color:#fff">3</div></div>
<svg class="r" style="left:0;top:0" width="1722" height="1424">
<rect x="309.2" y="1004.8" width="50.3" height="38.2" fill="#64b0ea"/>
<circle cx="359.5" cy="1023.9" r="19.3" fill="#64b0ea" stroke="#fff" stroke-width="1.2"/>
<circle cx="309.1" cy="1023.8" r="19" fill="#fff" stroke="#64b0ea" stroke-width="0.8"/>
<g transform="translate(309.10 1023.80)"><rect x="-11.3" y="-10.3" width="23.3" height="20.9" rx="2.6" fill="#64b0ea"/><circle cx="-6.4" cy="-5.1" r="2.1" fill="#fff"/>
<path d="M-8.4 7.4L-4.4 1.6L-2.4 3.6L2.6 -2.8L9.2 7.4Z" fill="#fff" stroke="#fff" stroke-width="0.8" stroke-linejoin="round"/></g>
<circle cx="551.5" cy="1023.8" r="19.4" fill="#64b0ea" stroke="#fff" stroke-width="1.2"/>
<circle cx="547" cy="1023.7" r="18.8" fill="#fff" stroke="#64b0ea" stroke-width="0.8"/>
<text x="548" y="1033.8" font-size="27.5" fill="#5fb0ea" text-anchor="middle" font-family="Liberation Sans">2</text>
<circle cx="885.5" cy="1023.9" r="19.4" fill="#64b0ea" stroke="#fff" stroke-width="1.2"/>
<circle cx="877.6" cy="1023.8" r="18.6" fill="#fff" stroke="#64b0ea" stroke-width="0.8"/>
<g transform="translate(877.60 1023.80)"><rect x="-11.3" y="-10.3" width="23.3" height="20.9" rx="2.6" fill="#64b0ea"/><circle cx="-6.4" cy="-5.1" r="2.1" fill="#fff"/>
<path d="M-8.4 7.4L-4.4 1.6L-2.4 3.6L2.6 -2.8L9.2 7.4Z" fill="#fff" stroke="#fff" stroke-width="0.8" stroke-linejoin="round"/></g>
<circle cx="1349.8" cy="1023.9" r="19.4" fill="#64b0ea" stroke="#fff" stroke-width="1.2"/>
<circle cx="1346.3" cy="1023.8" r="18.6" fill="#fff" stroke="#64b0ea" stroke-width="0.8"/>
<g transform="translate(1346.30 1023.80)"><rect x="-11.3" y="-10.3" width="23.3" height="20.9" rx="2.6" fill="#64b0ea"/><circle cx="-6.4" cy="-5.1" r="2.1" fill="#fff"/>
<path d="M-8.4 7.4L-4.4 1.6L-2.4 3.6L2.6 -2.8L9.2 7.4Z" fill="#fff" stroke="#fff" stroke-width="0.8" stroke-linejoin="round"/></g>
<circle cx="1391.5" cy="1023.9" r="19.4" fill="#64b0ea" stroke="#fff" stroke-width="1.2"/>
<circle cx="1382.3" cy="1023.8" r="18.6" fill="#fff" stroke="#64b0ea" stroke-width="0.8"/>
<g transform="translate(1382.30 1023.80)"><rect x="-11.3" y="-10.3" width="23.3" height="20.9" rx="2.6" fill="#64b0ea"/><circle cx="-6.4" cy="-5.1" r="2.1" fill="#fff"/>
<path d="M-8.4 7.4L-4.4 1.6L-2.4 3.6L2.6 -2.8L9.2 7.4Z" fill="#fff" stroke="#fff" stroke-width="0.8" stroke-linejoin="round"/></g>
<rect x="1234.7" y="1055" width="486.3" height="38" fill="#50c87d"/>
<circle cx="1234.7" cy="1073.9" r="18.8" fill="#fff" stroke="#50c87d" stroke-width="1"/>
<g transform="translate(1234.70 1073.90)"><path d="M-2.5 -8.2Q-7 -8.4 -8 -3.5Q-8.8 0.5 -11.4 3Q-10 4.6 -2 4.8Q-3.5 -1 -1 -7.6Z" fill="#50c87d"/>
<path d="M2.2 -7.9Q-1.6 -8 -1.6 -3.2Q-1.6 1.5 -0.3 5.6Q5 5.2 12.2 2.6Q9.5 0.6 8 -3.3Q6.5 -7.9 2.2 -7.9Z" fill="#50c87d"/>
<path d="M-9.3 6.6Q-7 8.2 -5.4 7.4M5.2 8.4Q7.5 8.6 8.7 6.8" stroke="#50c87d" stroke-width="1.8" fill="none" stroke-linecap="round"/></g>
<circle cx="1697" cy="1074" r="19.3" fill="none" stroke="#e8f5ec" stroke-width="1.1"/>
<circle cx="231" cy="1128.9" r="24" fill="#fff"/>
<text x="231" y="1138.8" font-size="27.5" fill="#111" text-anchor="middle" font-family="Liberation Sans">2</text>
<circle cx="270" cy="1128.9" r="24" fill="#fff"/>
<g transform="translate(270.00 1128.90)"><path d="M0 -11.8C5 -11.8 8.1 -8 8.1 -3.6C8.1 0 5.6 2 4.6 5.6H-4.4C-5.4 2 -7.8 0 -7.8 -3.6C-7.8 -8 -5 -11.8 0 -11.8Z" fill="#212121"/>
<path d="M-4.2 7.6H4.1V9Q4.1 12 0 12Q-4.2 12 -4.2 9Z" fill="#212121"/><path d="M-4.5 -3.5Q-4.5 -7.2 -1.2 -8.3" stroke="#fff" stroke-width="1.3" fill="none" stroke-linecap="round"/>
<path d="M-15 -3.9H-10.4M9.4 -3.9H14.8M-13 -11.5L-9.6 -9.3M12.8 -11.5L9.4 -9.3M-13 4.6L-9.6 2.4M12.8 4.6L9.4 2.4" stroke="#212121" stroke-width="2.3" stroke-linecap="round"/></g>
<circle cx="293" cy="1128.9" r="24" fill="#fff"/>
<g transform="translate(293.00 1128.90)"><rect x="-12.6" y="-14.6" width="25.5" height="29.7" rx="3" fill="#212121"/>
<circle cx="-7.6" cy="-7.3" r="1.9" fill="#fff"/><path d="M-10 -0.6L-8.1 1.4L-5 -2.3" stroke="#fff" stroke-width="1.7" fill="none" stroke-linecap="round" stroke-linejoin="round"/><circle cx="-7.6" cy="7.4" r="1.9" fill="#fff"/>
<path d="M-1.2 -7.3H9.1M-1.2 -0.3H9.1M-1.2 7.4H9.1" stroke="#fff" stroke-width="2" stroke-linecap="round"/></g>
<circle cx="359.5" cy="1128.9" r="24" fill="#fff"/>
<g transform="translate(359.50 1128.90)"><rect x="-12.6" y="-14.6" width="25.5" height="29.7" rx="3" fill="#212121"/>
<circle cx="-7.6" cy="-7.3" r="1.9" fill="#fff"/><path d="M-10 -0.6L-8.1 1.4L-5 -2.3" stroke="#fff" stroke-width="1.7" fill="none" stroke-linecap="round" stroke-linejoin="round"/><circle cx="-7.6" cy="7.4" r="1.9" fill="#fff"/>
<path d="M-1.2 -7.3H9.1M-1.2 -0.3H9.1M-1.2 7.4H9.1" stroke="#fff" stroke-width="2" stroke-linecap="round"/></g>
<circle cx="415" cy="1128.9" r="24" fill="#fff"/>
<g transform="translate(415.00 1128.90)"><path d="M-12 -14.6H12Q15 -14.6 15 -11.6V6.5Q15 9.5 12 9.5H3L-4.8 15.1V9.5H-12Q-15 9.5 -15 6.5V-11.6Q-15 -14.6 -12 -14.6Z" fill="#212121"/>
<path d="M-3.6 -4.8Q-3.6 -9 0.2 -9Q4.2 -9 4.2 -5.6Q4.2 -3.4 1.8 -2.3Q0.4 -1.6 0.4 0.4" stroke="#fff" stroke-width="2.8" fill="none" stroke-linecap="round"/><circle cx="0.4" cy="4.3" r="1.8" fill="#fff"/></g>
<circle cx="508" cy="1128.9" r="24" fill="#fff"/>
<g transform="translate(508.00 1128.90)"><rect x="-12.6" y="-14.6" width="25.5" height="29.7" rx="3" fill="#212121"/>
<circle cx="-7.6" cy="-7.3" r="1.9" fill="#fff"/><path d="M-10 -0.6L-8.1 1.4L-5 -2.3" stroke="#fff" stroke-width="1.7" fill="none" stroke-linecap="round" stroke-linejoin="round"/><circle cx="-7.6" cy="7.4" r="1.9" fill="#fff"/>
<path d="M-1.2 -7.3H9.1M-1.2 -0.3H9.1M-1.2 7.4H9.1" stroke="#fff" stroke-width="2" stroke-linecap="round"/></g>
<circle cx="548.5" cy="1128.9" r="24" fill="#fff"/>
<g transform="translate(548.50 1128.90)"><path d="M0 -11.8C5 -11.8 8.1 -8 8.1 -3.6C8.1 0 5.6 2 4.6 5.6H-4.4C-5.4 2 -7.8 0 -7.8 -3.6C-7.8 -8 -5 -11.8 0 -11.8Z" fill="#212121"/>
<path d="M-4.2 7.6H4.1V9Q4.1 12 0 12Q-4.2 12 -4.2 9Z" fill="#212121"/><path d="M-4.5 -3.5Q-4.5 -7.2 -1.2 -8.3" stroke="#fff" stroke-width="1.3" fill="none" stroke-linecap="round"/>
<path d="M-15 -3.9H-10.4M9.4 -3.9H14.8M-13 -11.5L-9.6 -9.3M12.8 -11.5L9.4 -9.3M-13 4.6L-9.6 2.4M12.8 4.6L9.4 2.4" stroke="#212121" stroke-width="2.3" stroke-linecap="round"/></g>
<circle cx="661.2" cy="1128.9" r="24" fill="#fff"/>
<g transform="translate(661.20 1128.90)"><path d="M-12.3 -14.8H12.1Q14.8 -14.8 14.8 -12.1V6.5Q14.8 9.2 12.1 9.2H4.5L-5.1 14.9V9.2H-12.3Q-15 9.2 -15 6.5V-12.1Q-15 -14.8 -12.3 -14.8Z" fill="#212121"/>
<circle cx="-3.6" cy="-6.8" r="1.9" fill="#fff"/><circle cx="4" cy="-6.8" r="1.9" fill="#fff"/><path d="M-5.8 -0.6Q0.4 5.6 6.6 -0.6" stroke="#fff" stroke-width="2.3" fill="none" stroke-linecap="round"/></g>
<circle cx="729" cy="1128.9" r="24" fill="#fff"/>
<text x="729" y="1138.8" font-size="27.5" fill="#111" text-anchor="middle" font-family="Liberation Sans">2</text>
<circle cx="771" cy="1128.9" r="24" fill="#fff"/>
<text x="771" y="1138.8" font-size="27.5" fill="#111" text-anchor="middle" font-family="Liberation Sans">6</text>
<circle cx="806" cy="1128.9" r="24" fill="#fff"/>
<g transform="translate(806.00 1128.90)"><g transform="rotate(-45)" fill="none" stroke="#212121" stroke-width="2.6" stroke-linecap="round">
<path d="M0 2.1A4.5 4.5 0 0 0 0 -6.9H-9A4.5 4.5 0 0 0 -9 2.1H-8"/><path d="M0 -2.1A4.5 4.5 0 0 0 0 6.9H9A4.5 4.5 0 0 0 9 -2.1H8"/>
</g></g>
<circle cx="850" cy="1128.9" r="24" fill="#fff"/>
<text x="850" y="1138.8" font-size="27.5" fill="#111" text-anchor="middle" font-family="Liberation Sans">3</text>
<circle cx="871.8" cy="1128.9" r="24" fill="#fff"/>
<text x="871.8" y="1138.8" font-size="27.5" fill="#111" text-anchor="middle" font-family="Liberation Sans">2</text>
<circle cx="900" cy="1128.9" r="24" fill="#fff"/>
<text x="900" y="1138.8" font-size="27.5" fill="#111" text-anchor="middle" font-family="Liberation Sans">3</text>
<circle cx="946" cy="1128.9" r="24" fill="#fff"/>
<g transform="translate(946.00 1128.90)"><g transform="rotate(-45)" fill="none" stroke="#212121" stroke-width="2.6" stroke-linecap="round">
<path d="M0 2.1A4.5 4.5 0 0 0 0 -6.9H-9A4.5 4.5 0 0 0 -9 2.1H-8"/><path d="M0 -2.1A4.5 4.5 0 0 0 0 6.9H9A4.5 4.5 0 0 0 9 -2.1H8"/>
</g></g>
<circle cx="973" cy="1128.9" r="24" fill="#fff"/>
<g transform="translate(973.00 1128.90)"><g transform="rotate(-45)" fill="none" stroke="#212121" stroke-width="2.6" stroke-linecap="round">
<path d="M0 2.1A4.5 4.5 0 0 0 0 -6.9H-9A4.5 4.5 0 0 0 -9 2.1H-8"/><path d="M0 -2.1A4.5 4.5 0 0 0 0 6.9H9A4.5 4.5 0 0 0 9 -2.1H8"/>
</g></g>
<circle cx="1006.5" cy="1128.9" r="24" fill="#fff"/>
<g transform="translate(1006.50 1128.90)"><g transform="rotate(-45)" fill="none" stroke="#212121" stroke-width="2.6" stroke-linecap="round">
<path d="M0 2.1A4.5 4.5 0 0 0 0 -6.9H-9A4.5 4.5 0 0 0 -9 2.1H-8"/><path d="M0 -2.1A4.5 4.5 0 0 0 0 6.9H9A4.5 4.5 0 0 0 9 -2.1H8"/>
</g></g>
<circle cx="1096.8" cy="1128.9" r="24" fill="#fff"/>
<g transform="translate(1096.80 1128.90)"><path d="M0 -11.8C5 -11.8 8.1 -8 8.1 -3.6C8.1 0 5.6 2 4.6 5.6H-4.4C-5.4 2 -7.8 0 -7.8 -3.6C-7.8 -8 -5 -11.8 0 -11.8Z" fill="#212121"/>
<path d="M-4.2 7.6H4.1V9Q4.1 12 0 12Q-4.2 12 -4.2 9Z" fill="#212121"/><path d="M-4.5 -3.5Q-4.5 -7.2 -1.2 -8.3" stroke="#fff" stroke-width="1.3" fill="none" stroke-linecap="round"/>
<path d="M-15 -3.9H-10.4M9.4 -3.9H14.8M-13 -11.5L-9.6 -9.3M12.8 -11.5L9.4 -9.3M-13 4.6L-9.6 2.4M12.8 4.6L9.4 2.4" stroke="#212121" stroke-width="2.3" stroke-linecap="round"/></g>
<circle cx="1140.3" cy="1128.9" r="24" fill="#fff"/>
<g transform="translate(1140.30 1128.90)"><g transform="rotate(-45)" fill="none" stroke="#212121" stroke-width="2.6" stroke-linecap="round">
<path d="M0 2.1A4.5 4.5 0 0 0 0 -6.9H-9A4.5 4.5 0 0 0 -9 2.1H-8"/><path d="M0 -2.1A4.5 4.5 0 0 0 0 6.9H9A4.5 4.5 0 0 0 9 -2.1H8"/>
</g></g>
<circle cx="1199.4" cy="1128.9" r="24" fill="#fff"/>
<g transform="translate(1199.40 1128.90)"><g transform="rotate(-45)" fill="none" stroke="#212121" stroke-width="2.6" stroke-linecap="round">
<path d="M0 2.1A4.5 4.5 0 0 0 0 -6.9H-9A4.5 4.5 0 0 0 -9 2.1H-8"/><path d="M0 -2.1A4.5 4.5 0 0 0 0 6.9H9A4.5 4.5 0 0 0 9 -2.1H8"/>
</g></g>
<circle cx="1308" cy="1128.9" r="24" fill="#fff"/>
<text x="1308" y="1138.8" font-size="27.5" fill="#111" text-anchor="middle" font-family="Liberation Sans">2</text>
<circle cx="1349" cy="1128.9" r="24" fill="#fff"/>
<g transform="translate(1349.00 1128.90)"><path d="M0 -11.8C5 -11.8 8.1 -8 8.1 -3.6C8.1 0 5.6 2 4.6 5.6H-4.4C-5.4 2 -7.8 0 -7.8 -3.6C-7.8 -8 -5 -11.8 0 -11.8Z" fill="#212121"/>
<path d="M-4.2 7.6H4.1V9Q4.1 12 0 12Q-4.2 12 -4.2 9Z" fill="#212121"/><path d="M-4.5 -3.5Q-4.5 -7.2 -1.2 -8.3" stroke="#fff" stroke-width="1.3" fill="none" stroke-linecap="round"/>
<path d="M-15 -3.9H-10.4M9.4 -3.9H14.8M-13 -11.5L-9.6 -9.3M12.8 -11.5L9.4 -9.3M-13 4.6L-9.6 2.4M12.8 4.6L9.4 2.4" stroke="#212121" stroke-width="2.3" stroke-linecap="round"/></g>
<circle cx="1398.8" cy="1128.9" r="24" fill="#fff"/>
<g transform="translate(1398.80 1128.90)"><g transform="rotate(-45)" fill="none" stroke="#212121" stroke-width="2.6" stroke-linecap="round">
<path d="M0 2.1A4.5 4.5 0 0 0 0 -6.9H-9A4.5 4.5 0 0 0 -9 2.1H-8"/><path d="M0 -2.1A4.5 4.5 0 0 0 0 6.9H9A4.5 4.5 0 0 0 9 -2.1H8"/>
</g></g>
<circle cx="1474" cy="1128.9" r="24" fill="#fff"/>
<text x="1474" y="1138.8" font-size="27.5" fill="#111" text-anchor="middle" font-family="Liberation Sans">7</text>
<circle cx="1507.5" cy="1128.9" r="24" fill="#fff"/>
<g transform="translate(1507.50 1128.90)"><path d="M-12.3 -14.8H12.1Q14.8 -14.8 14.8 -12.1V6.5Q14.8 9.2 12.1 9.2H4.5L-5.1 14.9V9.2H-12.3Q-15 9.2 -15 6.5V-12.1Q-15 -14.8 -12.3 -14.8Z" fill="#212121"/>
<circle cx="-3.6" cy="-6.8" r="1.9" fill="#fff"/><circle cx="4" cy="-6.8" r="1.9" fill="#fff"/><path d="M-5.8 -0.6Q0.4 5.6 6.6 -0.6" stroke="#fff" stroke-width="2.3" fill="none" stroke-linecap="round"/></g>
</svg>
<div class="r" style="left:212px;top:205px;width:3.5px;height:987px;background:#fd706c"></div>
<div class="t" style="left:58.70px;top:963.18px;font-size:24px;letter-spacing:0.616px;color:#ffffff;">Waiting room</div>
<div class="t" style="left:761.00px;top:963.18px;font-size:24px;letter-spacing:0.557px;color:#ffffff;">Presentation room</div>
<div class="t" style="left:1521.60px;top:962.48px;font-size:24px;letter-spacing:0.325px;color:#ffffff;">Exit room</div>
<div class="t" style="left:20.00px;top:1191.99px;font-size:26px;letter-spacing:2.858px;color:#8b979b;">-04:42</div>
<div class="r" style="left:123.6px;top:1191.4px;width:180px;height:31px;border-radius:16px;background:#fd706c"></div>
<svg class="r" style="left:134px;top:1197px" width="20" height="20" viewBox="0 0 20 20"><path d="M2 10L17 2V18Z" fill="#fff"/></svg>
<svg class="r" style="left:273px;top:1197px" width="20" height="20" viewBox="0 0 20 20"><path d="M18 10L3 2V18Z" fill="#fff"/></svg>
<div class="t" style="left:173.30px;top:1193.64px;font-size:25px;letter-spacing:4.269px;color:#ffffff;">00:00</div>
<div class="t" style="left:1223.50px;top:1192.29px;font-size:26px;letter-spacing:1.387px;color:#e6e8e8;">Image overlay start</div>
<div class="t" style="left:1477px;top:1191.60px;font-size:28px;letter-spacing:2.5px;color:#8b979b">30</div>
<div class="t" style="left:1627.00px;top:1192.29px;font-size:26px;letter-spacing:1.893px;color:#8b979b;">33:03</div>
<div class="r" style="left:19px;top:1225.5px;width:1682px;height:19.5px;border-radius:10px;background:#546f74"></div>
<div class="r" style="left:260px;top:1225.5px;width:844px;height:19.5px;border-radius:10px;background:#ffffff"></div>
<div class="t" style="left:21.00px;top:1328.59px;font-size:26px;letter-spacing:0.823px;color:#a3adb0;">Zoom:</div>
<div class="r" style="left:120px;top:1336.7px;width:200px;height:14px;border-radius:7px;background:#546f74"></div>
<div class="r" style="left:125px;top:1327.7px;width:32px;height:32px;border-radius:50%;background:#fff;box-shadow:0 2px 4px rgba(0,0,0,.4)"></div>
<div class="t" style="left:341.50px;top:1328.59px;font-size:26px;letter-spacing:-0.070px;color:#a3adb0;">4%</div>
<div class="r" style="left:813px;top:1287px;width:96px;height:96px;border-radius:50%;background:#3aa1b4"></div>
<svg class="r" style="left:845px;top:1312px" width="44" height="46" viewBox="0 0 44 46"><path d="M6 5.5Q4 4 4 7V39Q4 42 6 40.5L38 24.8Q40 23 38 21.2Z" fill="#fff" stroke="#fff" stroke-width="3" stroke-linejoin="round"/></svg>
<svg class="r" style="left:0;top:0" width="1722" height="1424"><g fill="none" stroke="rgba(235,240,240,0.85)" stroke-width="1.2" stroke-dasharray="1.6 1.2"><path d="M0.5 16A17 17 0 0 1 18 0.8"/><path d="M1704 0.8A17 17 0 0 1 1721.3 16"/><path d="M0.5 1408A17 17 0 0 0 18 1423.3"/><path d="M1704 1423.3A17 17 0 0 0 1721.3 1408"/></g></svg>
</body></html>
